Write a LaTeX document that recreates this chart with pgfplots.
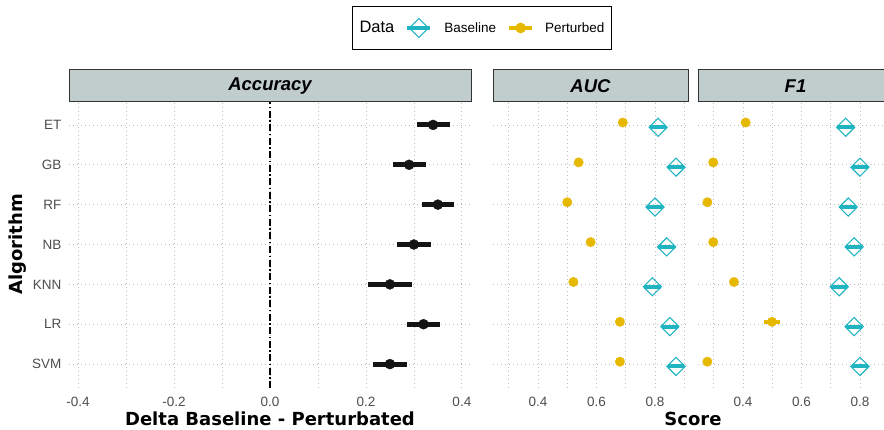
\documentclass[border=0pt]{standalone}
\usepackage{pgfplots}
\pgfplotsset{compat=1.18}
\usepackage{fontspec}
\setmainfont{Liberation Sans}
\newfontfamily\dejavu{DejaVu Sans}
\definecolor{basec}{HTML}{1EB4C1}
\definecolor{pertc}{HTML}{E7B800}
\definecolor{stripc}{HTML}{C1CDCD}
\definecolor{gridc}{HTML}{BDBDBD}
\definecolor{tickc}{HTML}{4D4D4D}
\definecolor{ptc}{HTML}{141414}

\tikzset{
  striptxt/.style={font=\fontsize{18.5}{18.5}\selectfont\bfseries\itshape},
  axtitle/.style={font=\fontsize{18}{18}\dejavu\bfseries, text=black},
}
\pgfplotsset{
  panel/.style={
    scale only axis, height=287pt, anchor=south west,
    ymin=0.4, ymax=7.6, ytick={1,...,7},
    axis line style={draw=none}, major tick length=0pt, minor tick length=0pt,
    xmajorgrids, xminorgrids, ymajorgrids,
    major grid style={gridc, line width=0.8pt, dash pattern=on 1pt off 3pt},
    minor grid style={gridc, line width=0.8pt, dash pattern=on 1pt off 3pt},
    /pgf/number format/assume math mode=true,
    tick label style={font=\fontsize{13.5}{13.5}\selectfont, text=tickc},
    xticklabel style={/pgf/number format/fixed, /pgf/number format/fixed zerofill,
      /pgf/number format/precision=1, anchor=center, yshift=-14pt},
    clip=false,
  },
}

\begin{document}
\begin{tikzpicture}
\path[use as bounding box] (0,0) rectangle (884pt,429pt);

% ---------------- Accuracy ----------------
\begin{axis}[panel, at={(69pt,41pt)}, width=402pt,
  xmin=-0.419, xmax=0.419,
  xtick={-0.4,-0.2,0,0.2,0.4}, minor xtick={-0.3,-0.1,0.1,0.3},
  yticklabels={SVM,LR,KNN,NB,RF,GB,ET},
  yticklabel style={xshift=-4pt},
  xlabel={Delta Baseline - Perturbated},
  xlabel style={axtitle, at={(axis description cs:0.5,-0.108)}, anchor=center},
  ylabel={Algorithm},
  ylabel style={axtitle, at={(axis description cs:-0.1269,0.5)}, anchor=center},
  legend columns=3,
  legend style={at={(axis description cs:1.0274,1.2544)}, anchor=center,
    draw=black, line width=1.2pt, fill=white,
    inner xsep=7pt, inner ysep=11.5pt,
    nodes={inner sep=0pt},
    font=\fontsize{13.5}{13.5}\selectfont,
    /tikz/column 1/.style={column sep=0pt},
    /tikz/column 2/.style={column sep=11pt},
    /tikz/column 3/.style={column sep=12pt},
    /tikz/column 4/.style={column sep=11pt},
    /tikz/column 5/.style={column sep=11pt},
  },
]
\addlegendimage{empty legend}
\addlegendentry{\fontsize{16.5}{16.5}\selectfont Data}
\addlegendimage{legend image code/.code={
  \draw[basec, line width=4pt] (0pt,0pt) -- (23pt,0pt);
  \draw[basec, line width=1.1pt] (11.5pt,-9.5pt) -- (21pt,0pt) -- (11.5pt,9.5pt) -- (2pt,0pt) -- cycle;}}
\addlegendentry{Baseline}
\addlegendimage{legend image code/.code={
  \draw[pertc, line width=4pt] (0pt,0pt) -- (23pt,0pt);
  \fill[pertc] (11.5pt,0pt) circle (4.7pt);}}
\addlegendentry{Perturbed}

\addplot[forget plot, black, line width=1.3pt, dash pattern=on 7pt off 2.5pt on 1.5pt off 2.5pt]
  coordinates {(0,0.4) (0,7.6)};

\addplot[forget plot, only marks, mark=*, mark size=5pt, color=ptc,
  error bars/.cd, x dir=both, x explicit, error mark=none,
  error bar style={line width=5pt, ptc}]
  coordinates {
  (0.340,7) += (0.035,0) -= (0.034,0)
  (0.290,6) += (0.035,0) -= (0.034,0)
  (0.350,5) += (0.033,0) -= (0.034,0)
  (0.300,4) += (0.035,0) -= (0.035,0)
  (0.250,3) += (0.045,0) -= (0.045,0)
  (0.320,2) += (0.034,0) -= (0.035,0)
  (0.250,1) += (0.035,0) -= (0.035,0)
  };

\draw[fill=stripc, draw=black!80, line width=0.8pt] (rel axis cs:0,1) rectangle ([yshift=32pt]rel axis cs:1,1);
\node[striptxt] at ([yshift=14.5pt]rel axis cs:0.5,1) {Accuracy};
\end{axis}

% ---------------- AUC ----------------
\begin{axis}[panel, at={(493pt,41pt)}, width=195pt,
  xmin=0.246, xmax=0.913,
  xtick={0.4,0.6,0.8}, minor xtick={0.3,0.5,0.7,0.9},
  yticklabels={},
  xlabel={Score},
  xlabel style={axtitle, at={(axis description cs:1.0256,-0.108)}, anchor=center},
]
\addplot[only marks, mark=square, mark size=6.4pt,
  mark options={rotate=45, line width=1.1pt, draw=basec, fill=none},
  error bars/.cd, x dir=both, x explicit, error mark=none,
  error bar style={line width=4pt, basec}]
  coordinates {
  (0.811,6.94) +- (0.028,0)
  (0.872,5.94) +- (0.028,0)
  (0.800,4.94) +- (0.028,0)
  (0.840,3.94) +- (0.028,0)
  (0.791,2.94) +- (0.028,0)
  (0.851,1.94) +- (0.028,0)
  (0.872,0.94) +- (0.028,0)
  };
\addplot[only marks, mark=*, mark size=4.7pt, mark options={draw=pertc, fill=pertc}]
  coordinates {
  (0.690,7.06) (0.539,6.06) (0.500,5.06) (0.580,4.06)
  (0.521,3.06) (0.680,2.06) (0.680,1.06)
  };
\draw[fill=stripc, draw=black!80, line width=0.8pt] (rel axis cs:0,1) rectangle ([yshift=32pt]rel axis cs:1,1);
\node[striptxt] at ([yshift=14.5pt]rel axis cs:0.5,1) {AUC};
\end{axis}

% ---------------- F1 ----------------
\begin{axis}[panel, at={(698pt,41pt)}, width=195pt,
  xmin=0.246, xmax=0.913,
  xtick={0.4,0.6,0.8}, minor xtick={0.3,0.5,0.7,0.9},
  yticklabels={},
]
\addplot[only marks, mark=square, mark size=6.4pt,
  mark options={rotate=45, line width=1.1pt, draw=basec, fill=none},
  error bars/.cd, x dir=both, x explicit, error mark=none,
  error bar style={line width=4pt, basec}]
  coordinates {
  (0.751,6.94) +- (0.028,0)
  (0.800,5.94) +- (0.028,0)
  (0.760,4.94) +- (0.028,0)
  (0.780,3.94) +- (0.028,0)
  (0.729,2.94) +- (0.028,0)
  (0.780,1.94) +- (0.028,0)
  (0.800,0.94) +- (0.028,0)
  };
\addplot[only marks, mark=*, mark size=4.7pt, mark options={draw=pertc, fill=pertc},
  error bars/.cd, x dir=both, x explicit, error mark=none,
  error bar style={line width=4pt, pertc}]
  coordinates {
  (0.409,7.06) +- (0,0)
  (0.298,6.06) +- (0,0)
  (0.278,5.06) +- (0,0)
  (0.298,4.06) +- (0,0)
  (0.369,3.06) +- (0,0)
  (0.499,2.06) +- (0.026,0)
  (0.278,1.06) +- (0,0)
  };
\draw[fill=stripc, draw=black!80, line width=0.8pt] (rel axis cs:0,1) rectangle ([yshift=32pt]rel axis cs:1,1);
\node[striptxt] at ([yshift=14.5pt]rel axis cs:0.5,1) {F1};
\end{axis}
\end{tikzpicture}
\end{document}
